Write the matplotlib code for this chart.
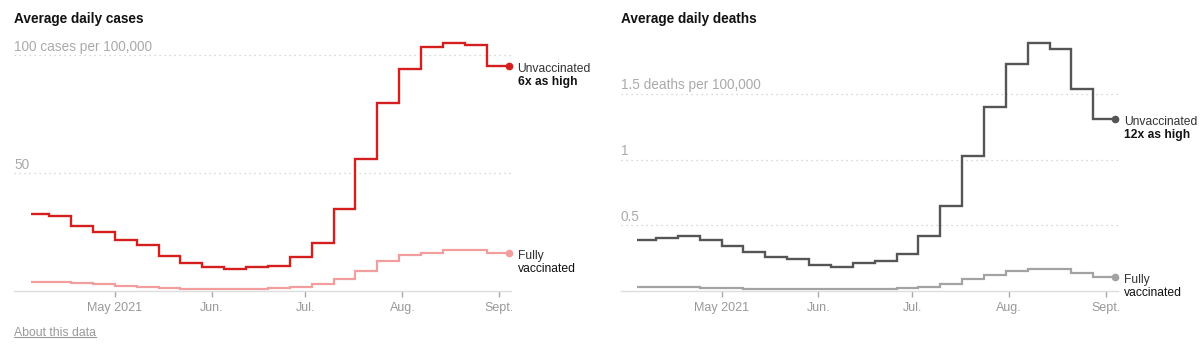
import matplotlib
matplotlib.use('Agg')
import matplotlib.pyplot as plt
import matplotlib.dates as mdates
import matplotlib.transforms as mtransforms
from matplotlib.lines import Line2D
from datetime import datetime

plt.rcParams['font.family'] = ['Liberation Sans', 'DejaVu Sans']

# weekly step edges (first week is partial)
week_edges = ['2021-04-04', '2021-04-10', '2021-04-17', '2021-04-24', '2021-05-01',
              '2021-05-08', '2021-05-15', '2021-05-22', '2021-05-29', '2021-06-05',
              '2021-06-12', '2021-06-19', '2021-06-26', '2021-07-03', '2021-07-10',
              '2021-07-17', '2021-07-24', '2021-07-31', '2021-08-07', '2021-08-14',
              '2021-08-21', '2021-08-28', '2021-09-04']

# cases per 100,000 (weekly average)
cases_unvax = [32.7, 31.8, 27.6, 24.9, 21.5, 19.7, 14.8, 11.7, 10.0, 9.3, 10.0,
               10.6, 14.6, 20.5, 34.9, 55.9, 79.6, 94.3, 103.4, 105.3, 104.5, 95.6]
cases_vax = [3.8, 3.7, 3.4, 3.0, 2.3, 1.7, 1.2, 0.9, 0.8, 0.8, 0.9,
             1.1, 1.8, 3.0, 5.2, 8.6, 12.7, 15.4, 16.2, 17.4, 17.3, 16.2]

# deaths per 100,000
deaths_unvax = [0.39, 0.40, 0.42, 0.39, 0.34, 0.30, 0.26, 0.24, 0.20, 0.185, 0.21,
                0.225, 0.28, 0.42, 0.65, 1.03, 1.40, 1.73, 1.89, 1.84, 1.54, 1.31]
deaths_vax = [0.033, 0.033, 0.033, 0.025, 0.023, 0.018, 0.015, 0.013, 0.012, 0.012, 0.013,
              0.015, 0.02, 0.033, 0.053, 0.089, 0.125, 0.152, 0.170, 0.165, 0.139, 0.109]

month_ticks = ['2021-05-01', '2021-06-01', '2021-07-01', '2021-08-01', '2021-09-01']
month_labels = ['May 2021', 'Jun.', 'Jul.', 'Aug.', 'Sept.']

W, H = 1200, 350
fig = plt.figure(figsize=(12, 3.5), dpi=100)

edges = mdates.date2num([datetime.strptime(d, '%Y-%m-%d') for d in week_edges])
tick_x = mdates.date2num([datetime.strptime(d, '%Y-%m-%d') for d in month_ticks])
may1 = mdates.date2num(datetime(2021, 5, 1))


def make_panel(left_px, title, unvax, vax, c_unvax, c_vax, grid_vals, grid_labels,
               ytop, ratio_text):
    ax = fig.add_axes([left_px / W, (H - 291) / H, 497 / W, 256 / H])
    ax.set_xlim(may1 - 32.3, may1 + 126.8)
    ax.set_ylim(0, ytop)

    for s in ['top', 'right', 'left']:
        ax.spines[s].set_visible(False)
    ax.spines['bottom'].set_color('#dddddd')
    ax.spines['bottom'].set_linewidth(1)

    ax.set_xticks(tick_x)
    ax.set_xticklabels(month_labels)
    ax.tick_params(axis='x', length=4, width=1, color='#aaaaaa', pad=4,
                   labelsize=9, labelcolor='#999999')

    ax.set_yticks(grid_vals)
    ax.tick_params(axis='y', length=0, labelleft=False)
    ax.yaxis.grid(True, linestyle=(0, (1, 3)), color='#cccccc', linewidth=0.9)
    ax.set_axisbelow(True)

    trans = mtransforms.blended_transform_factory(ax.transAxes, ax.transData)
    for v, lab in zip(grid_vals, grid_labels):
        ax.annotate(lab, xy=(0, v), xycoords=trans, xytext=(0, 8.5),
                    textcoords='offset pixels', ha='left', va='center',
                    fontsize=9.8, color='#aaaaaa')

    ax.stairs(vax, edges, baseline=None, color=c_vax, linewidth=1.6, joinstyle='miter')
    ax.stairs(unvax, edges, baseline=None, color=c_unvax, linewidth=1.7, joinstyle='miter')

    ax.plot(edges[-1], unvax[-1], 'o', color=c_unvax, ms=4.5, clip_on=False)
    ax.plot(edges[-1], vax[-1], 'o', color=c_vax, ms=4.5, clip_on=False)

    def label(y, l1, l2, bold2):
        ax.annotate(l1, xy=(edges[-1], y), xytext=(9, -3), textcoords='offset pixels',
                    ha='left', va='center', fontsize=8.7, color='#333333',
                    annotation_clip=False)
        ax.annotate(l2, xy=(edges[-1], y), xytext=(9, -16), textcoords='offset pixels',
                    ha='left', va='center', fontsize=8.7, color='#121212',
                    fontweight='bold' if bold2 else 'normal', annotation_clip=False)

    label(unvax[-1], 'Unvaccinated', ratio_text, True)
    label(vax[-1], 'Fully', 'vaccinated', False)

    fig.text(left_px / W, 1 - 19 / H, title, ha='left', va='center',
             fontsize=9.8, fontweight='bold', color='#121212')
    return ax


make_panel(14, 'Average daily cases', cases_unvax, cases_vax, '#d51f1f', '#f29e9e',
           [50, 100], ['50', '100 cases per 100,000'], 256 / 2.357, '6x as high')
make_panel(620.7, 'Average daily deaths', deaths_unvax, deaths_vax, '#555555', '#a3a3a3',
           [0.5, 1, 1.5], ['0.5', '1', '1.5 deaths per 100,000'], 256 / 131.4, '12x as high')

about = fig.text(14 / W, 1 - 332.7 / H, 'About this data', ha='left', va='center',
                 fontsize=8.8, color='#999999')
fig.canvas.draw()
bb = about.get_window_extent()
inv = fig.transFigure.inverted()
(x0, y0), (x1, _) = inv.transform([(bb.x0, bb.y0 + 1.5), (bb.x1, bb.y0 + 1.5)])
fig.add_artist(Line2D([x0, x1], [y0, y0], transform=fig.transFigure,
                      color='#999999', linewidth=0.8))

fig.savefig('out.png', dpi=100, facecolor='white')
